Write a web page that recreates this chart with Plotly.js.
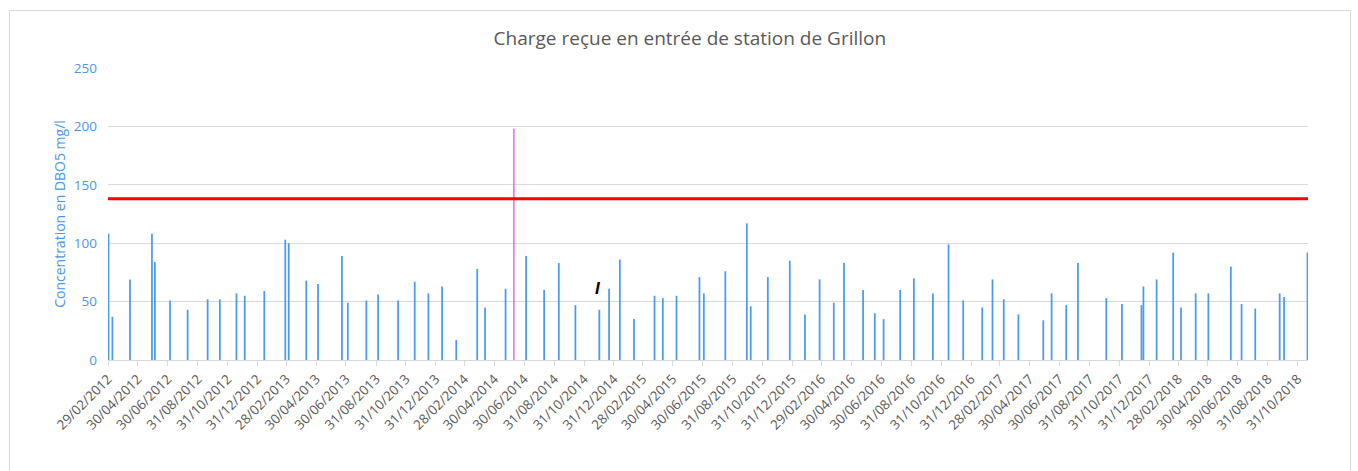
<!DOCTYPE html>
<html>
<head>
<meta charset="utf-8">
<script src="https://cdn.plot.ly/plotly-3.0.1.min.js"></script>
<style>
  html, body { margin: 0; padding: 0; background: #ffffff; }
  #wrap { position: relative; width: 1358px; height: 471px; overflow: hidden; }
  #chart { position: absolute; left: 0; top: 0; width: 1358px; height: 471px; }
  #frame { position: absolute; left: 9px; top: 10px; width: 1340px; height: 470px; border: 1px solid #d9d9d9; pointer-events: none; }
</style>
</head>
<body>
<div id="wrap"><div id="chart"></div><div id="frame"></div></div>
<script>
// ---- data ----
const sampleDates = [
  "2012-03-01","2012-03-09","2012-04-14","2012-05-29","2012-06-04","2012-07-05","2012-08-10","2012-09-20",
  "2012-10-15","2012-11-18","2012-12-05","2013-01-14","2013-02-26","2013-03-05","2013-04-10","2013-05-04",
  "2013-06-22","2013-07-04","2013-08-11","2013-09-04","2013-10-15","2013-11-18","2013-12-16","2014-01-13",
  "2014-02-11","2014-03-26","2014-04-11","2014-05-23","2014-07-04","2014-08-10","2014-09-09","2014-10-13",
  "2014-12-01","2014-12-21","2015-01-12","2015-02-10","2015-03-24","2015-04-10","2015-05-08","2015-06-24",
  "2015-07-03","2015-08-16","2015-09-29","2015-10-07","2015-11-11","2015-12-26","2016-01-26","2016-02-25",
  "2016-03-25","2016-04-15","2016-05-24","2016-06-17","2016-07-05","2016-08-08","2016-09-05","2016-10-14",
  "2016-11-15","2016-12-15","2017-01-23","2017-02-13","2017-03-08","2017-04-07","2017-05-28","2017-06-14",
  "2017-07-14","2017-08-07","2017-10-04","2017-11-05","2017-12-15","2017-12-19","2018-01-15","2018-02-18",
  "2018-03-06","2018-04-05","2018-05-01","2018-06-16","2018-07-08","2018-08-05","2018-09-24","2018-10-03",
  "2018-11-20"
];
const dbo5Values = [
  108, 37, 69, 108, 84, 51, 43, 52,
  52, 57, 55, 59, 103, 100, 68, 65,
  89, 49, 51, 56, 51, 67, 57, 63,
  17, 78, 45, 61, 89, 60, 83, 47,
  43, 61, 86, 35, 55, 53, 55, 71,
  57, 76, 117, 46, 71, 85, 39, 69,
  49, 83, 60, 40, 35, 60, 70, 57,
  99, 51, 45, 69, 52, 39, 34, 57,
  47, 83, 53, 48, 47, 63, 69, 92,
  45, 57, 57, 80, 48, 44, 57, 54,
  92
];
const peakDates = ["2014-06-09"];
const peakValues = [198];
const limitValue = 138;
const noteText = "I";
const noteDate = "2014-11-28";
const noteValue = 61;
const tickLabels = [
  "29/02/2012","30/04/2012","30/06/2012","31/08/2012","31/10/2012","31/12/2012",
  "28/02/2013","30/04/2013","30/06/2013","31/08/2013","31/10/2013","31/12/2013",
  "28/02/2014","30/04/2014","30/06/2014","31/08/2014","31/10/2014","31/12/2014",
  "28/02/2015","30/04/2015","30/06/2015","31/08/2015","31/10/2015","31/12/2015",
  "29/02/2016","30/04/2016","30/06/2016","31/08/2016","31/10/2016","31/12/2016",
  "28/02/2017","30/04/2017","30/06/2017","31/08/2017","31/10/2017","31/12/2017",
  "28/02/2018","30/04/2018","30/06/2018","31/08/2018","31/10/2018"
];
const xRange = ["2012-02-29", "2018-11-21"];

// ---- chart ----
const tickVals = tickLabels.map(s => { const p = s.split("/"); return p[2] + "-" + p[1] + "-" + p[0]; });
const DAY = 86400000;
const blue = "#4a9af5";
const axisBlue = "#4d96ee";
const grey = "#595959";

const traces = [
  { type: "bar", x: sampleDates, y: dbo5Values, width: sampleDates.map(() => 3.6 * DAY),
    marker: { color: blue, line: { width: 0 } }, hoverinfo: "x+y", showlegend: false },
  { type: "bar", x: peakDates, y: peakValues, width: peakDates.map(() => 3.0 * DAY),
    marker: { color: "#e466e6", line: { width: 0 } }, showlegend: false }
];

const layout = {
  width: 1358, height: 471,
  margin: { l: 108, r: 50, t: 68, b: 111, pad: 0 },
  paper_bgcolor: "rgba(0,0,0,0)", plot_bgcolor: "#ffffff",
  barmode: "overlay",
  font: { family: "Open Sans, sans-serif", color: grey },
  title: { text: "Charge reçue en entrée de station de Grillon", x: 0.508, xanchor: "center", y: 0.919, yanchor: "middle",
           font: { family: "Open Sans, sans-serif", size: 19, color: grey } },
  xaxis: {
    type: "date", range: xRange, tickmode: "array", tickvals: tickVals, ticktext: tickLabels,
    tickangle: -45, tickfont: { size: 13.4, color: grey }, ticks: "outside", ticklen: 5, tickcolor: "#d9d9d9",
    showgrid: false, showline: true, linecolor: "#d9d9d9", linewidth: 1, zeroline: false, fixedrange: true
  },
  yaxis: {
    range: [0, 250], tickmode: "linear", tick0: 0, dtick: 50, tickfont: { size: 13.5, color: axisBlue },
    showgrid: true, gridcolor: "#d9d9d9", gridwidth: 1, zeroline: false, showline: false, ticks: "",
    ticklabelstandoff: 10,
    title: { text: "Concentration en DBO5 mg/l", font: { size: 14, color: axisBlue }, standoff: 4 }
  },
  shapes: [
    { type: "line", xref: "paper", x0: 0, x1: 1, yref: "y", y0: limitValue, y1: limitValue,
      line: { color: "#ff0000", width: 3 } }
  ],
  annotations: [
    { x: noteDate, y: noteValue, xref: "x", yref: "y", text: "<b><i>" + noteText + "</i></b>", showarrow: false,
      font: { size: 17, color: "#000000", family: "Liberation Sans, sans-serif" } }
  ]
};

Plotly.newPlot("chart", traces, layout, { displayModeBar: false, staticPlot: true });
</script>
</body>
</html>
